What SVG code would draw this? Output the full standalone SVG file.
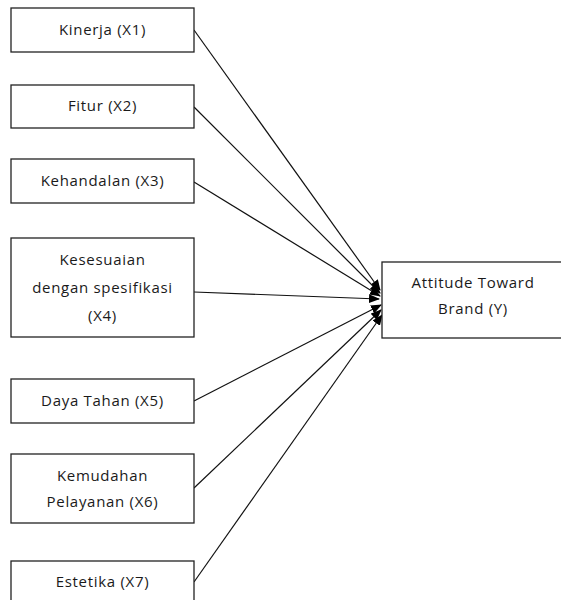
<svg xmlns="http://www.w3.org/2000/svg" width="561" height="600" viewBox="0 0 561 600">
<defs>
<marker id="ah" markerWidth="11" markerHeight="9" refX="10" refY="4.5" orient="auto" markerUnits="userSpaceOnUse">
<path d="M0,0 L11,4.5 L0,9 Z" fill="#000"/>
</marker>
<style>
.box{fill:#fff;stroke:#222;stroke-width:1.3}
.t{font-family:"Open Sans","Liberation Sans",Arial,sans-serif;font-size:15px;fill:#1a1a1a;text-anchor:middle;letter-spacing:0.7px}
.c{stroke:#111;stroke-width:1.2;fill:none;marker-end:url(#ah)}
</style>
</defs>
<rect width="561" height="600" fill="#fff"/>
<g id="connectors">
<line class="c" x1="194" y1="30" x2="380" y2="290"/>
<line class="c" x1="194" y1="107" x2="380" y2="293"/>
<line class="c" x1="194" y1="182" x2="380" y2="296"/>
<line class="c" x1="194" y1="292" x2="379" y2="299"/>
<line class="c" x1="194" y1="401" x2="381" y2="305"/>
<line class="c" x1="194" y1="488" x2="381" y2="310"/>
<line class="c" x1="194" y1="582" x2="382" y2="315"/>
</g>
<g id="x1"><rect class="box" x="11" y="8" width="183" height="44"/><text class="t" x="102.5" y="35">Kinerja (X1)</text></g>
<g id="x2"><rect class="box" x="11" y="85" width="183" height="43"/><text class="t" x="102.5" y="111">Fitur (X2)</text></g>
<g id="x3"><rect class="box" x="11" y="159" width="183" height="44"/><text class="t" x="102.5" y="186">Kehandalan (X3)</text></g>
<g id="x4"><rect class="box" x="11" y="238" width="183" height="99"/><text class="t" x="102.5" y="265">Kesesuaian</text><text class="t" x="102.5" y="293">dengan spesifikasi</text><text class="t" x="102.5" y="321">(X4)</text></g>
<g id="x5"><rect class="box" x="11" y="379" width="183" height="44"/><text class="t" x="102.5" y="406">Daya Tahan (X5)</text></g>
<g id="x6"><rect class="box" x="11" y="454" width="183" height="69"/><text class="t" x="102.5" y="481">Kemudahan</text><text class="t" x="102.5" y="507">Pelayanan (X6)</text></g>
<g id="x7"><rect class="box" x="11" y="561" width="183" height="50"/><text class="t" x="102.5" y="587">Estetika (X7)</text></g>
<g id="y"><rect class="box" x="382" y="262" width="190" height="76"/><text class="t" x="473" y="288">Attitude Toward</text><text class="t" x="473" y="314">Brand (Y)</text></g>
</svg>
